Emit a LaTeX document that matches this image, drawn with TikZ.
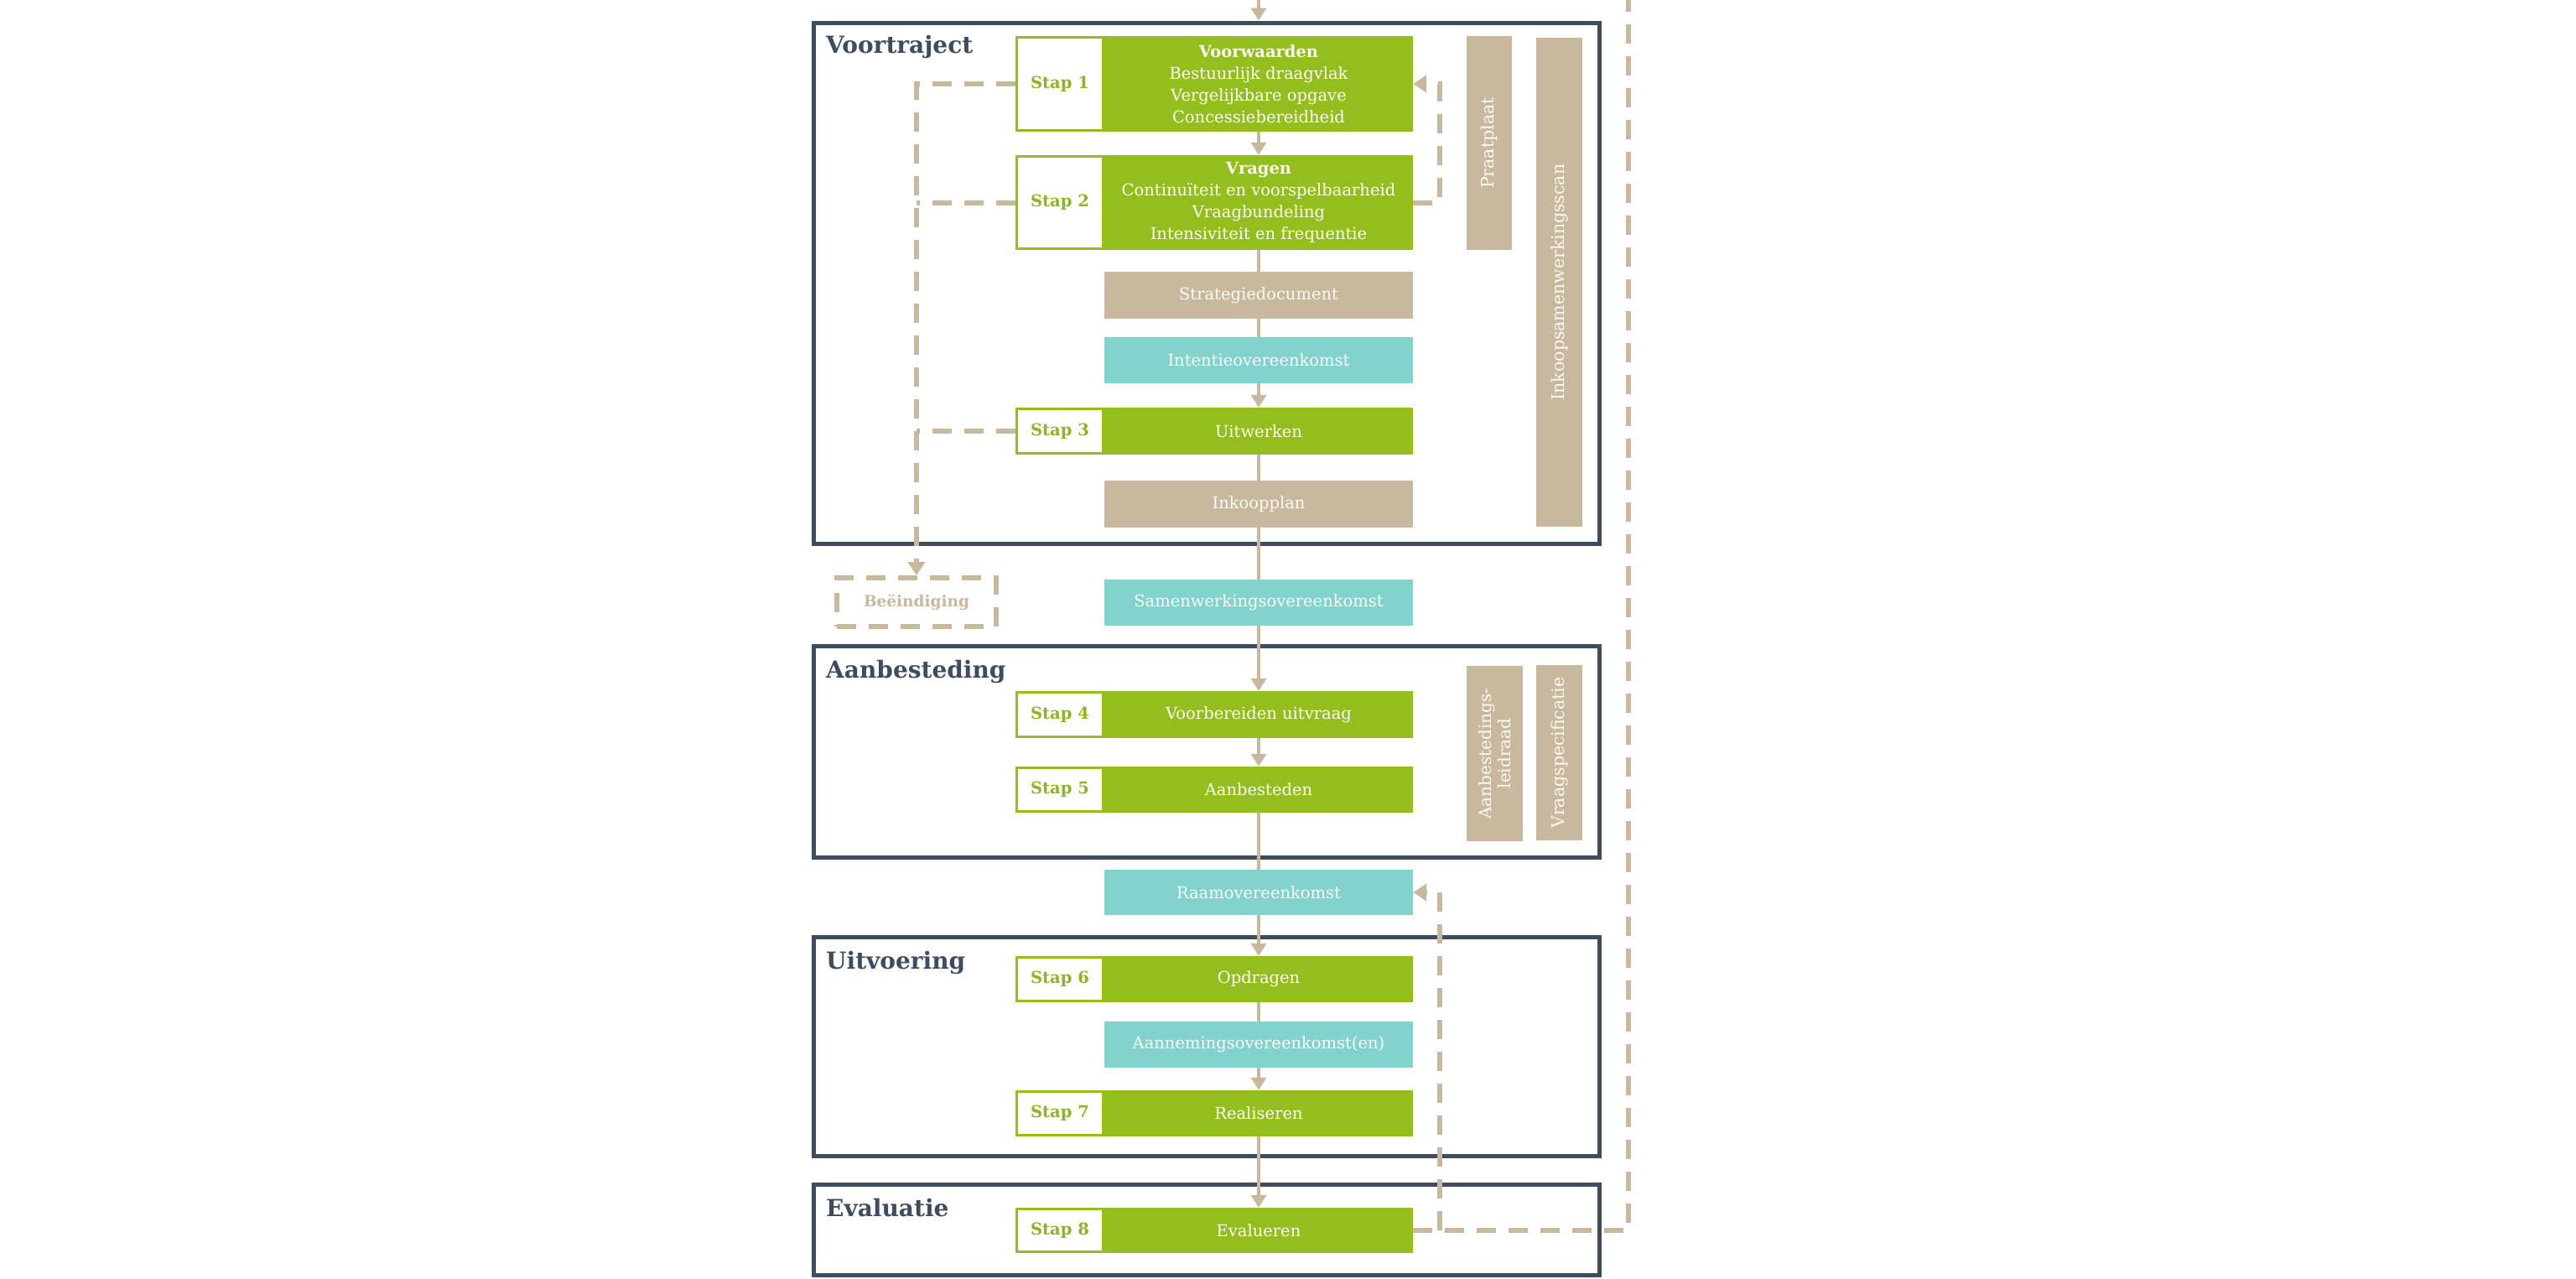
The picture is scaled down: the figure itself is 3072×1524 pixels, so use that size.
\documentclass[tikz,border=0pt]{standalone}
\usepackage{fontspec}
\setmainfont{DejaVu Serif}
\usetikzlibrary{arrows.meta}
\definecolor{lgreen}{RGB}{148,190,30}
\definecolor{tanc}{RGB}{200,185,158}
\definecolor{cyanc}{RGB}{130,210,205}
\definecolor{navy}{RGB}{62,76,96}
\definecolor{stapg}{RGB}{140,180,35}
\definecolor{cream}{RGB}{252,250,244}
\begin{document}
\begin{tikzpicture}[x=1pt,y=-1pt,
 txt/.style={font=\fontsize{19.5}{26}\selectfont, text=cream, align=center, inner sep=0pt},
 gbox/.style={txt, fill=lgreen, minimum width=368pt},
 tbox/.style={txt, fill=tanc, minimum width=368pt},
 cbox/.style={txt, fill=cyanc, minimum width=368pt},
 stapbox/.style={draw=lgreen, line width=3pt, fill=white, minimum width=103pt, inner sep=0pt, text=stapg, font=\fontsize{19.5}{22}\selectfont\bfseries},
 bar/.style={txt, fill=tanc, rotate=90, font=\fontsize{20.5}{24}\selectfont},
 frame/.style={draw=navy, line width=5pt, inner sep=0pt},
 heading/.style={anchor=base west, text=navy, font=\fontsize{28}{32}\selectfont\bfseries, inner sep=0pt},
 flow/.style={draw=tanc, line width=4pt},
 arr/.style={flow, -{Triangle[width=18pt,length=15pt]}},
 dline/.style={draw=tanc, line width=6pt, dash pattern=on 23pt off 15pt},
 darr/.style={dline, -{Triangle[width=20pt,length=16pt]}},
]
\fill[white] (0,0) rectangle (3072,1524);
\useasboundingbox (0,0) rectangle (3072,1524);

% frames
\node[frame, minimum width=937pt, minimum height=621pt] (vt) at (1438.5,337.5) {};
\node[frame, minimum width=937pt, minimum height=252pt] (ab) at (1438.5,896) {};
\node[frame, minimum width=937pt, minimum height=261pt] (uv) at (1438.5,1247.5) {};
\node[frame, minimum width=937pt, minimum height=108pt] (ev) at (1438.5,1466) {};

\node[heading] (hvt) at (985,63) {Voortraject};
\node[heading] (hab) at (985,808) {Aanbesteding};
\node[heading] (huv) at (985,1155) {Uitvoering};
\node[heading] (hev) at (985,1450) {Evaluatie};

% coordinates
\coordinate (top) at (1501,0);
\coordinate (rx) at (1717,0);
\coordinate (farx) at (1942,0);

% steps
\node[stapbox, minimum height=111pt] (s1) at (1264,100) {Stap 1};
\node[gbox, minimum height=114pt] (g1) at (1501,100) {\textbf{Voorwaarden}\\Bestuurlijk draagvlak\\Vergelijkbare opgave\\Concessiebereidheid};
\node[stapbox, minimum height=110pt] (s2) at (1264,241.5) {Stap 2};
\node[gbox, minimum height=113pt] (g2) at (1501,241.5) {\textbf{Vragen}\\Continuïteit en voorspelbaarheid\\Vraagbundeling\\Intensiviteit en frequentie};
\node[tbox, minimum height=56pt] (sd) at (1501,352) {Strategiedocument};
\node[cbox, minimum height=55pt] (io) at (1501,429.5) {Intentieovereenkomst};
\node[stapbox, minimum height=53pt] (s3) at (1264,514) {Stap 3};
\node[gbox, minimum height=56pt] (g3) at (1501,514) {Uitwerken};
\node[tbox, minimum height=56pt] (ip) at (1501,601) {Inkoopplan};
\node[cbox, minimum height=55pt] (sw) at (1501,718.5) {Samenwerkingsovereenkomst};
\node[stapbox, minimum height=53pt] (s4) at (1264,852) {Stap 4};
\node[gbox, minimum height=56pt] (g4) at (1501,852) {Voorbereiden uitvraag};
\node[stapbox, minimum height=52pt] (s5) at (1264,941.5) {Stap 5};
\node[gbox, minimum height=55pt] (g5) at (1501,941.5) {Aanbesteden};
\node[cbox, minimum height=54pt] (ro) at (1501,1064) {Raamovereenkomst};
\node[stapbox, minimum height=52pt] (s6) at (1264,1167.5) {Stap 6};
\node[gbox, minimum height=55pt] (g6) at (1501,1167.5) {Opdragen};
\node[cbox, minimum height=55pt] (ao) at (1501,1245.5) {Aannemingsovereenkomst(en)};
\node[stapbox, minimum height=52pt] (s7) at (1264,1327.5) {Stap 7};
\node[gbox, minimum height=55pt] (g7) at (1501,1327.5) {Realiseren};
\node[stapbox, minimum height=51pt] (s8) at (1264,1467) {Stap 8};
\node[gbox, minimum height=54pt] (g8) at (1501,1467) {Evalueren};

% side bars
\node[bar, minimum width=255pt, minimum height=54pt] (pp) at (1776,170.5) {Praatplaat};
\node[bar, minimum width=583pt, minimum height=55pt] (isc) at (1859.5,336.5) {Inkoopsamenwerkingsscan};
\node[bar, minimum width=209pt, minimum height=67pt, font=\fontsize{20}{23}\selectfont] (al) at (1782.5,898.5) {Aanbestedings-\\leidraad};
\node[bar, minimum width=209pt, minimum height=55pt] (vs) at (1859.5,897.5) {Vraagspecificatie};

% termination
\node[dline, minimum width=190pt, minimum height=58pt, inner sep=0pt, text=tanc, font=\fontsize{18.5}{22}\selectfont\bfseries] (be) at (1093,718) {Beëindiging};

% main flow
\draw[arr] (top) -- (top |- vt.north);
\draw[arr] (g1) -- (g2);
\draw[flow] (g2) -- (sd);
\draw[flow] (sd) -- (io);
\draw[arr] (io) -- (g3);
\draw[flow] (g3) -- (ip);
\draw[flow] (ip) -- (sw);
\draw[arr] (sw) -- (g4);
\draw[arr] (g4) -- (g5);
\draw[flow] (g5) -- (ro);
\draw[arr] (ro) -- (g6);
\draw[flow] (g6) -- (ao);
\draw[arr] (ao) -- (g7);
\draw[arr] (g7) -- (g8);

% dashed feedback
\draw[darr] (s1.west) -| (be.north);
\draw[dline] (s2.west) -- (s2.west -| be.north);
\draw[dline] (s3.west) -- (s3.west -| be.north);
\draw[darr] (g2.east) -- (g2.east -| rx) |- (g1.east);
\draw[dline] (g8.east) -| (farx);
\draw[darr] (g8.east -| rx) |- (ro.east);
\end{tikzpicture}
\end{document}
